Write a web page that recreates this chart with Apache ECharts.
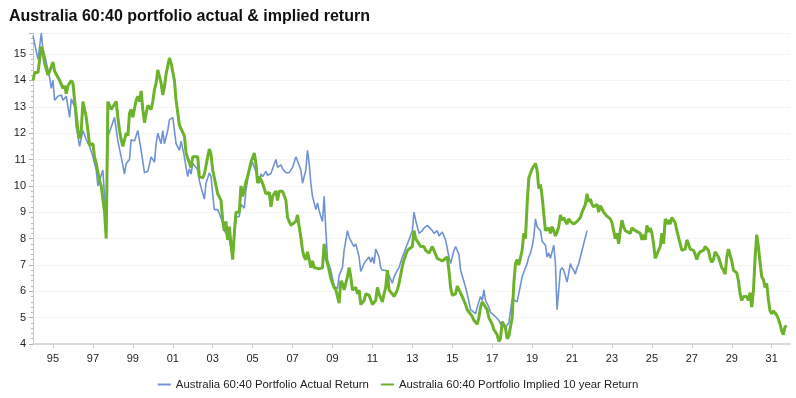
<!DOCTYPE html>
<html>
<head>
<meta charset="utf-8">
<title>Australia 60:40 portfolio actual & implied return</title>
<script src="https://cdn.jsdelivr.net/npm/echarts@6/dist/echarts.min.js"></script>
<style>
	html, body { margin: 0 ; padding: 0 ; background: #fff ; }
	#main { width: 796px ; height: 398px ; }
</style>
</head>
<body>
<div id="main"></div>
<script>

// month of observation, value in %
var actualReturn = [
	['1994-01',15.7],['1994-04',14.8],['1994-06',15.8],['1994-07',15.15],['1994-08',14.95],['1994-10',14.4],
	['1994-11',14.1],['1994-12',13.7],['1995-01',14.0],['1995-02',13.25],['1995-04',13.4],['1995-06',13.45],
	['1995-07',13.25],['1995-09',13.4],['1995-11',12.6],['1995-12',13.3],['1996-02',13.0],['1996-03',12.25],
	['1996-05',11.5],['1996-07',12.1],['1996-09',11.75],['1996-11',11.5],['1997-01',11.1],['1997-03',10.6],
	['1997-04',10.0],['1997-05',9.95],['1997-07',10.6],['1997-08',9.6],['1997-09',8.8],['1997-10',11.85],
	['1998-02',12.6],['1998-04',11.7],['1998-06',11.1],['1998-08',10.45],['1998-09',10.85],['1998-11',11.0],
	['1998-12',11.75],['1999-02',11.7],['1999-04',12.1],['1999-06',11.35],['1999-08',10.5],['1999-10',10.55],
	['1999-12',11.1],['2000-02',10.9],['2000-03',11.6],['2000-04',12.0],['2000-06',11.6],['2000-07',12.1],
	['2000-08',11.6],['2000-10',12.1],['2000-11',12.5],['2001-01',12.6],['2001-03',11.6],['2001-05',11.35],
	['2001-06',11.7],['2001-08',11.1],['2001-09',10.7],['2001-10',10.35],['2001-11',10.65],['2001-12',10.45],
	['2002-01',10.85],['2002-03',10.7],['2002-04',10.6],['2002-05',10.2],['2002-06',9.95],['2002-08',9.5],
	['2002-09',10.1],['2002-11',10.5],['2002-12',10.35],['2003-01',9.7],['2003-02',9.1],['2003-04',9.1],
	['2003-05',8.95],['2003-07',8.6],['2003-08',8.3],['2003-09',8.2],['2003-11',7.95],['2004-01',7.3],
	['2004-03',8.8],['2004-05',8.85],['2004-06',9.3],['2004-08',9.15],['2004-09',9.85],['2004-11',10.6],
	['2005-01',10.9],['2005-02',10.85],['2005-04',10.35],['2005-05',10.1],['2005-06',10.45],['2005-07',10.35],
	['2005-09',10.55],['2005-10',10.4],['2005-12',10.47],['2006-01',10.4],['2006-03',11.0],['2006-04',10.7],
	['2006-06',10.8],['2006-07',10.65],['2006-09',10.5],['2006-11',10.5],['2007-01',10.7],['2007-03',11.1],
	['2007-04',10.95],['2007-06',10.6],['2007-07',10.1],['2007-09',10.6],['2007-10',11.35],['2007-11',10.85],
	['2007-12',10.1],['2008-01',9.6],['2008-03',9.1],['2008-04',9.35],['2008-05',9.05],['2008-07',8.65],
	['2008-08',9.6],['2008-09',8.35],['2008-10',7.2],['2008-12',6.8],['2009-01',6.5],['2009-02',6.2],
	['2009-04',6.1],['2009-05',6.6],['2009-07',6.9],['2009-08',7.55],['2009-10',8.3],['2009-11',8.05],
	['2010-01',7.8],['2010-02',7.7],['2010-03',7.8],['2010-05',7.3],['2010-06',6.75],['2010-08',7.05],
	['2010-09',7.15],['2010-11',7.3],['2010-12',7.1],['2011-01',7.3],['2011-02',7.05],['2011-03',7.6],
	['2011-05',7.3],['2011-06',6.9],['2011-07',6.8],['2011-09',6.8],['2011-10',6.75],['2011-11',6.6],
	['2012-01',6.3],['2012-02',6.55],['2012-04',6.8],['2012-05',6.9],['2012-07',7.3],['2012-08',7.45],
	['2012-10',7.8],['2012-11',7.95],['2013-01',8.3],['2013-02',9.0],['2013-03',8.7],['2013-04',8.7],
	['2013-05',8.2],['2013-07',8.3],['2013-08',8.4],['2013-10',8.5],['2013-11',8.55],['2014-01',8.3],
	['2014-02',8.2],['2014-04',8.3],['2014-05',8.1],['2014-07',8.25],['2014-08',8.2],['2014-09',7.95],
	['2014-11',7.3],['2014-12',7.05],['2015-02',7.55],['2015-03',7.7],['2015-05',7.4],['2015-06',6.8],
	['2015-07',6.85],['2015-09',6.15],['2015-10',5.9],['2015-12',5.3],['2016-01',5.25],['2016-03',5.15],
	['2016-04',5.4],['2016-06',5.8],['2016-07',5.65],['2016-08',6.05],['2016-09',5.65],['2016-11',5.4],
	['2016-12',5.2],['2017-01',5.2],['2017-02',5.1],['2017-03',5.1],['2017-05',4.9],['2017-06',4.75],
	['2017-07',4.85],['2017-08',4.75],['2017-09',4.65],['2017-11',4.8],['2018-01',5.7],['2018-02',5.7],
	['2018-04',5.6],['2018-05',5.55],['2018-07',6.55],['2018-08',6.55],['2018-09',6.9],['2018-10',7.05],
	['2018-11',7.3],['2018-12',7.45],['2019-01',7.7],['2019-02',8.05],['2019-03',8.75],['2019-04',8.45],
	['2019-05',8.4],['2019-06',8.3],['2019-07',7.9],['2019-09',7.75],['2019-10',7.3],['2019-11',7.45],
	['2019-12',7.25],['2020-01',7.3],['2020-02',7.75],['2020-03',7.05],['2020-04',5.3],['2020-05',6.05],
	['2020-06',6.8],['2020-07',6.9],['2020-08',6.8],['2020-09',6.85],['2020-10',6.35],['2020-11',6.4],
	['2020-12',7.05],['2021-01',6.9],['2021-02',6.8],['2021-03',6.65],['2021-04',6.9],['2021-05',7.05],
	['2021-06',7.3],['2021-07',7.55],['2021-08',7.8],['2021-09',8.05],['2021-10',8.3]
] ;

var impliedReturn = [
	['1994-01',14.0],['1994-02',14.3],['1994-04',14.3],['1994-06',15.28],['1994-07',15.1],['1994-08',14.65],
	['1994-10',14.2],['1994-11',14.35],['1995-01',14.7],['1995-02',14.35],['1995-03',14.3],['1995-05',14.0],
	['1995-06',13.95],['1995-07',13.7],['1995-08',13.8],['1995-09',13.5],['1995-10',13.8],['1995-12',14.0],
	['1996-01',13.9],['1996-02',13.25],['1996-03',13.25],['1996-04',12.1],['1996-05',11.8],['1996-06',12.1],
	['1996-07',13.2],['1996-09',12.6],['1996-10',12.1],['1996-11',11.55],['1997-01',11.6],['1997-02',11.1],
	['1997-03',10.85],['1997-05',10.2],['1997-06',10.0],['1997-07',10.0],['1997-08',9.0],['1997-09',8.0],
	['1997-10',13.2],['1997-12',12.9],['1998-01',13.0],['1998-03',13.2],['1998-04',12.6],['1998-05',12.1],
	['1998-06',11.75],['1998-07',11.5],['1998-09',12.0],['1998-10',11.9],['1998-11',12.75],['1998-12',12.9],
	['1999-01',12.6],['1999-03',13.25],['1999-04',13.4],['1999-05',13.2],['1999-06',13.6],['1999-07',12.9],
	['1999-08',12.4],['1999-09',12.75],['1999-10',13.05],['1999-12',12.9],['2000-01',13.2],['2000-02',13.65],
	['2000-03',13.9],['2000-04',14.4],['2000-05',14.15],['2000-06',13.9],['2000-07',13.45],['2000-08',13.75],
	['2000-09',14.25],['2000-11',14.85],['2000-12',14.65],['2001-01',14.6],['2001-02',14.0],['2001-03',13.25],
	['2001-05',12.3],['2001-06',12.35],['2001-08',11.9],['2001-09',11.25],['2001-10',11.05],['2001-11',11.1],
	['2001-12',10.7],['2002-01',11.1],['2002-02',11.05],['2002-04',11.1],['2002-05',10.35],['2002-07',10.3],
	['2002-08',10.45],['2002-10',11.1],['2002-11',11.4],['2002-12',11.2],['2003-01',10.6],['2003-03',10.0],
	['2003-04',9.7],['2003-06',9.45],['2003-07',8.7],['2003-08',8.3],['2003-09',8.65],['2003-10',7.95],
	['2003-11',8.45],['2003-12',7.8],['2004-01',7.2],['2004-02',8.2],['2004-03',9.0],['2004-05',9.0],
	['2004-06',10.0],['2004-07',9.6],['2004-09',10.15],['2004-10',10.35],['2004-12',10.9],['2005-01',10.85],
	['2005-02',11.25],['2005-03',10.85],['2005-04',10.1],['2005-05',10.35],['2005-07',10.1],['2005-08',10.05],
	['2005-09',9.7],['2005-11',9.75],['2005-12',9.2],['2006-01',9.6],['2006-03',9.8],['2006-04',9.45],
	['2006-05',9.8],['2006-07',9.8],['2006-09',9.45],['2006-10',8.8],['2006-12',8.5],['2007-01',8.45],
	['2007-03',8.65],['2007-04',8.9],['2007-05',8.45],['2007-06',8.05],['2007-07',7.55],['2007-08',7.3],
	['2007-09',7.2],['2007-10',7.5],['2007-12',6.9],['2008-01',7.15],['2008-02',6.9],['2008-03',6.85],
	['2008-05',6.85],['2008-07',6.9],['2008-08',7.8],['2008-09',7.3],['2008-11',6.8],['2008-12',6.5],
	['2009-01',6.3],['2009-02',6.15],['2009-03',6.05],['2009-04',6.0],['2009-05',5.55],['2009-06',6.4],
	['2009-07',6.3],['2009-08',6.05],['2009-10',6.55],['2009-11',6.9],['2009-12',6.55],['2010-01',6.05],
	['2010-03',6.15],['2010-04',5.9],['2010-05',6.05],['2010-06',5.5],['2010-08',5.65],['2010-09',5.9],
	['2010-11',5.85],['2010-12',5.9],['2011-01',5.5],['2011-03',5.65],['2011-04',6.15],['2011-05',5.9],
	['2011-07',5.6],['2011-08',5.9],['2011-09',6.15],['2011-10',6.8],['2011-11',6.05],['2012-01',5.9],
	['2012-02',5.8],['2012-04',6.05],['2012-05',6.3],['2012-07',6.95],['2012-08',7.2],['2012-10',7.55],
	['2012-11',7.5],['2013-01',7.7],['2013-02',8.3],['2013-03',8.0],['2013-05',7.8],['2013-06',7.7],
	['2013-08',7.7],['2013-09',7.55],['2013-11',7.45],['2013-12',7.5],['2014-01',7.7],['2014-03',7.4],
	['2014-04',7.25],['2014-05',7.3],['2014-07',7.15],['2014-08',7.15],['2014-10',7.3],['2014-11',6.8],
	['2014-12',6.15],['2015-01',5.85],['2015-03',5.9],['2015-04',6.2],['2015-05',6.25],['2015-07',5.8],
	['2015-08',5.65],['2015-09',5.5],['2015-10',5.3],['2015-11',5.35],['2016-01',5.05],['2016-02',4.9],
	['2016-04',4.75],['2016-05',5.0],['2016-06',5.4],['2016-07',5.6],['2016-09',5.4],['2016-10',5.3],
	['2016-11',5.0],['2017-01',4.75],['2017-02',4.55],['2017-04',4.35],['2017-05',4.1],['2017-06',4.2],
	['2017-07',4.85],['2017-08',4.8],['2017-09',4.6],['2017-10',4.2],['2017-11',4.3],['2018-01',5.0],
	['2018-02',6.3],['2018-03',7.05],['2018-04',7.2],['2018-05',7.0],['2018-06',7.05],['2018-07',7.55],
	['2018-08',8.2],['2018-09',8.0],['2018-10',9.3],['2018-11',10.3],['2018-12',10.3],['2019-01',10.65],
	['2019-02',10.65],['2019-03',10.85],['2019-04',10.6],['2019-05',9.9],['2019-06',10.05],['2019-07',9.6],
	['2019-08',8.95],['2019-09',8.3],['2019-10',8.25],['2019-11',8.4],['2019-12',8.2],['2020-01',8.45],
	['2020-02',8.3],['2020-03',8.1],['2020-04',8.25],['2020-05',8.45],['2020-06',8.9],['2020-07',8.7],
	['2020-08',8.8],['2020-09',8.65],['2020-10',8.55],['2020-11',8.75],['2020-12',8.65],['2021-02',8.55],
	['2021-04',8.65],['2021-06',8.8],['2021-07',9.0],['2021-09',9.3],['2021-10',9.7],['2021-11',9.4],
	['2021-12',9.5],['2022-01',9.3],['2022-02',9.2],['2022-03',9.2],['2022-04',9.3],['2022-05',9.0],
	['2022-06',9.25],['2022-07',9.3],['2022-08',9.0],['2022-10',8.85],['2022-11',8.8],['2022-12',8.75],
	['2023-01',8.6],['2023-02',8.3],['2023-03',8.0],['2023-04',8.2],['2023-05',7.8],['2023-06',8.3],
	['2023-07',8.7],['2023-08',8.45],['2023-09',8.3],['2023-10',8.35],['2023-12',8.2],['2024-01',8.4],
	['2024-02',8.4],['2024-03',8.3],['2024-04',8.3],['2024-06',8.2],['2024-07',7.95],['2024-08',8.15],
	['2024-09',7.95],['2024-10',8.5],['2024-11',8.25],['2024-12',8.4],['2025-01',8.2],['2025-02',7.8],
	['2025-03',7.25],['2025-04',7.3],['2025-05',7.55],['2025-06',7.7],['2025-07',8.2],['2025-08',7.8],
	['2025-09',8.75],['2025-10',8.55],['2025-11',8.7],['2025-12',8.55],['2026-01',8.8],['2026-02',8.8],
	['2026-03',8.6],['2026-04',8.3],['2026-05',8.05],['2026-06',8.05],['2026-07',7.55],['2026-08',7.55],
	['2026-09',7.6],['2026-10',7.95],['2026-11',7.8],['2026-12',7.6],['2027-01',7.6],['2027-02',7.55],
	['2027-03',7.4],['2027-04',7.2],['2027-05',7.4],['2027-06',7.5],['2027-08',7.55],['2027-09',7.7],
	['2027-10',7.75],['2027-11',7.55],['2027-12',7.25],['2028-01',7.1],['2028-02',7.2],['2028-03',7.5],
	['2028-04',7.55],['2028-05',7.3],['2028-06',7.1],['2028-07',6.9],['2028-08',6.8],['2028-09',6.65],
	['2028-10',7.3],['2028-11',7.6],['2028-12',7.6],['2029-01',7.15],['2029-02',6.8],['2029-04',6.7],
	['2029-05',6.4],['2029-06',5.9],['2029-07',5.65],['2029-08',5.8],['2029-09',5.8],['2029-10',5.8],
	['2029-11',5.65],['2029-12',5.95],['2030-01',5.4],['2030-02',6.0],['2030-03',7.25],['2030-04',8.15],
	['2030-05',7.7],['2030-06',7.1],['2030-07',6.55],['2030-08',6.45],['2030-09',6.15],['2030-10',6.3],
	['2030-11',5.7],['2030-12',5.25],['2031-01',5.15],['2031-02',5.25],['2031-03',5.3],['2031-04',5.1],
	['2031-05',4.95],['2031-06',4.75],['2031-07',4.5],['2031-08',4.35],['2031-09',4.65],['2031-10',4.7]
] ;

var seriesNames = ['Australia 60:40 Portfolio Actual Return', 'Australia 60:40 Portfolio Implied 10 year Return'] ;
var firstYear = 1994 ;
var lastYear = 2031 ;

// monthly categories Jan 1994 .. Dec 2031
var months = [] ;
for( var y = firstYear ; y <= lastYear ; y++ )
{
	for( var m = 1 ; m <= 12 ; m++ )
	{
		months.push( y + '-' + ( m < 10 ? '0' + m : m ) ) ;
	}
}

// ticks and labels every January of odd years
function isLabelMonth(index, value)
{
	var yr = parseInt(value.substr(0,4), 10) ;
	return value.substr(5,2) === '01' && yr % 2 === 1 ;
}

var FONT = '"Liberation Sans", Arial, sans-serif' ;

var option = {
	backgroundColor: '#fff',
	animation: false,
	title: {
		text: 'Australia 60:40 portfolio actual & implied return',
		left: 4,
		top: 4,
		textStyle: {
			fontFamily: FONT,
			fontSize: 16,
			fontWeight: 'bold',
			color: '#111'
		}
	},
	legend: {
		data: seriesNames,
		bottom: 3,
		left: 'center',
		icon: 'rect',
		itemWidth: 13,
		itemHeight: 2,
		itemGap: 12,
		textStyle: {
			fontFamily: FONT,
			fontSize: 11.4,
			color: '#222'
		}
	},
	grid: {
		left: 33,
		right: 6,
		top: 33,
		bottom: 54
	},
	xAxis: {
		type: 'category',
		boundaryGap: false,
		data: months,
		axisLine: { lineStyle: { color: '#d9d9d9', width: 2 } },
		axisTick: {
			interval: isLabelMonth,
			length: 4,
			lineStyle: { color: '#cccccc' }
		},
		axisLabel: {
			interval: isLabelMonth,
			formatter: function (value) { return value.substr(2,2) ; },
			fontFamily: FONT,
			fontSize: 11,
			color: '#222',
			margin: 9
		},
		splitLine: { show: false }
	},
	yAxis: {
		type: 'value',
		min: 4,
		max: 15.8,
		interval: 1,
		axisLine: { show: true, lineStyle: { color: '#c8c8c8' } },
		axisTick: { show: true, length: 4, lineStyle: { color: '#b0b0b0' } },
		minorTick: { show: true, splitNumber: 5, length: 2, lineStyle: { color: '#b8b8b8' } },
		axisLabel: {
			showMaxLabel: false,
			fontFamily: FONT,
			fontSize: 11,
			color: '#222',
			margin: 7
		},
		splitLine: { lineStyle: { color: '#e8e8e8', type: 'dotted' } }
	},
	series: [
		{
			name: seriesNames[0],
			type: 'line',
			data: actualReturn,
			showSymbol: false,
			itemStyle: { color: '#7092d2' },
			lineStyle: { color: '#7092d2', width: 1.6 }
		},
		{
			name: seriesNames[1],
			type: 'line',
			data: impliedReturn,
			showSymbol: false,
			itemStyle: { color: '#6cb22b' },
			lineStyle: { color: '#6cb22b', width: 3 }
		}
	]
} ;

var myChart = echarts.init( document.getElementById('main') ) ;
myChart.setOption(option) ;

</script>
</body>
</html>
